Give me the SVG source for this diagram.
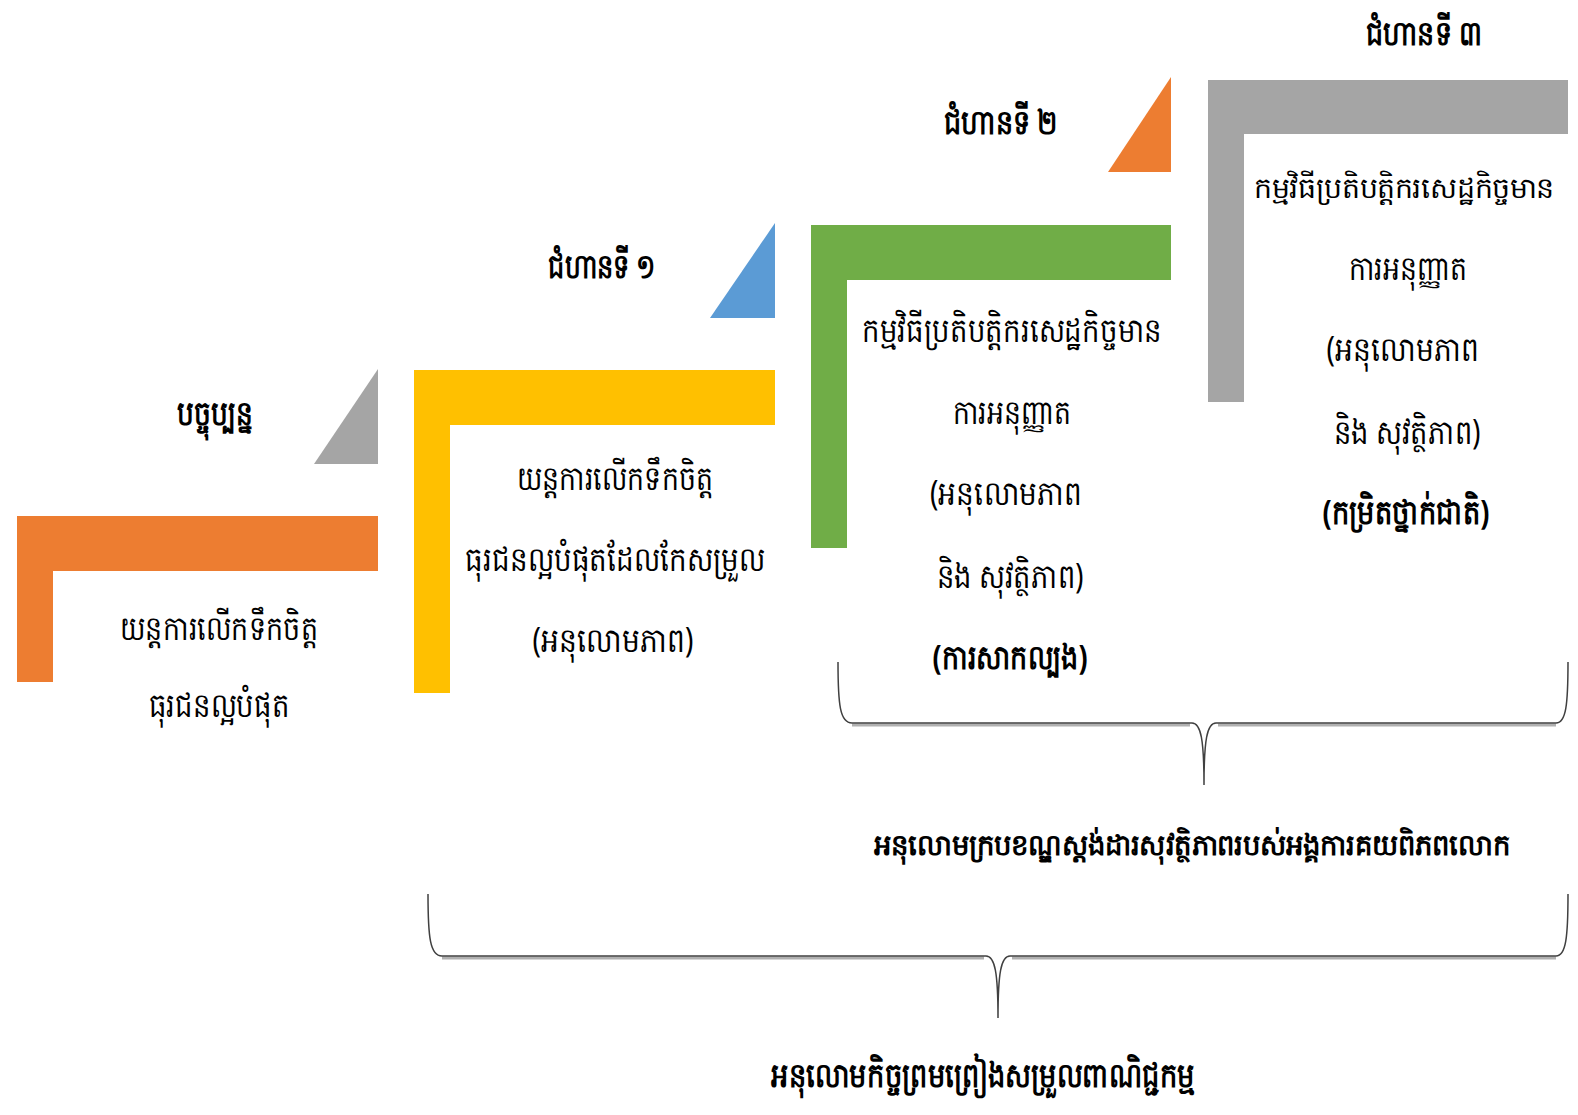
<svg xmlns="http://www.w3.org/2000/svg" width="1578" height="1115" viewBox="0 0 1578 1115">
<style>
text{font-family:"Noto Sans","DejaVu Sans",sans-serif;font-size:34px;fill:#000;text-anchor:middle}
.b{font-weight:bold}
.s{font-size:29px}
.brace{fill:none;stroke:#404040;stroke-width:1.5}
.shadow{fill:none;stroke:#b0b0b0;stroke-width:3}
</style>
<rect width="1578" height="1115" fill="#fff"/>
<g id="now">
<polygon points="378,369 378,464 314,464" fill="#A5A5A5"/>
<path d="M17,516 H378 V571 H53 V682 H17 Z" fill="#ED7D31"/>
<text class="b" x="215" y="425" textLength="76" lengthAdjust="spacingAndGlyphs">បច្ចុប្បន្ន</text>
<text x="219" y="640" textLength="198" lengthAdjust="spacingAndGlyphs">យន្តការលើកទឹកចិត្ត</text>
<text x="219" y="717" textLength="141" lengthAdjust="spacingAndGlyphs">ធុរជនល្អបំផុត</text>
</g>
<g id="step1">
<polygon points="775,223 775,318 710,318" fill="#5B9BD5"/>
<path d="M414,370 H775 V425 H450 V693 H414 Z" fill="#FFC000"/>
<text class="b" x="602" y="278" textLength="108" lengthAdjust="spacingAndGlyphs">ជំហានទី ១</text>
<text x="615" y="490" textLength="197" lengthAdjust="spacingAndGlyphs">យន្តការលើកទឹកចិត្ត</text>
<text x="615" y="571" textLength="300" lengthAdjust="spacingAndGlyphs">ធុរជនល្អបំផុតដែលកែសម្រួល</text>
<text x="613" y="652" textLength="161" lengthAdjust="spacingAndGlyphs">(អនុលោមភាព)</text>
</g>
<g id="step2">
<polygon points="1171,77 1171,172 1108,172" fill="#ED7D31"/>
<path d="M811,225 H1171 V280 H847 V548 H811 Z" fill="#70AD47"/>
<text class="b" x="1001" y="134" textLength="114" lengthAdjust="spacingAndGlyphs">ជំហានទី ២</text>
<text x="1012" y="342" textLength="300" lengthAdjust="spacingAndGlyphs">កម្មវិធីប្រតិបត្តិករសេដ្ឋកិច្ចមាន</text>
<text x="1012" y="424" textLength="119" lengthAdjust="spacingAndGlyphs">ការអនុញ្ញាត</text>
<text x="1006" y="505" textLength="152" lengthAdjust="spacingAndGlyphs">(អនុលោមភាព</text>
<text x="1010" y="588" textLength="147" lengthAdjust="spacingAndGlyphs">និង សុវត្ថិភាព)</text>
<text class="b" x="1010" y="669" textLength="155" lengthAdjust="spacingAndGlyphs">(ការសាកល្បង)</text>
</g>
<g id="step3">
<path d="M1208,80 H1568 V134 H1244 V402 H1208 Z" fill="#A5A5A5"/>
<text class="b" x="1424" y="45" textLength="116" lengthAdjust="spacingAndGlyphs">ជំហានទី ៣</text>
<text class="s" x="1404" y="198" textLength="300" lengthAdjust="spacingAndGlyphs">កម្មវិធីប្រតិបត្តិករសេដ្ឋកិច្ចមាន</text>
<text x="1408" y="280" textLength="119" lengthAdjust="spacingAndGlyphs">ការអនុញ្ញាត</text>
<text x="1403" y="361" textLength="153" lengthAdjust="spacingAndGlyphs">(អនុលោមភាព</text>
<text x="1407" y="444" textLength="147" lengthAdjust="spacingAndGlyphs">និង សុវត្ថិភាព)</text>
<text class="b" x="1406" y="524" textLength="167" lengthAdjust="spacingAndGlyphs">(កម្រិតថ្នាក់ជាតិ)</text>
</g>
<g id="connectors">
<path class="shadow" d="M852,725 L1190,725 M1218,725 L1556,725"/>
<path class="brace" d="M838,662 C838,705 840,723 852,723 L1192,723 C1201,723 1204,740 1204,785 C1204,740 1207,723 1216,723 L1556,723 C1566,723 1568,705 1568,662"/>
<path class="shadow" d="M442,958 L984,958 M1012,958 L1556,958"/>
<path class="brace" d="M428,894 C428,937 430,956 442,956 L986,956 C995,956 998,973 998,1018 C998,973 1001,956 1010,956 L1556,956 C1566,956 1568,937 1568,894"/>
</g>
<g id="labels">
<text class="b s" x="1192" y="855" textLength="636" lengthAdjust="spacingAndGlyphs">អនុលោមក្របខណ្ឌស្តង់ដារសុវត្ថិភាពរបស់អង្គការគយពិភពលោក</text>
<text class="b" x="983" y="1087" textLength="424" lengthAdjust="spacingAndGlyphs">អនុលោមកិច្ចព្រមព្រៀងសម្រួលពាណិជ្ជកម្ម</text>
</g>
</svg>
